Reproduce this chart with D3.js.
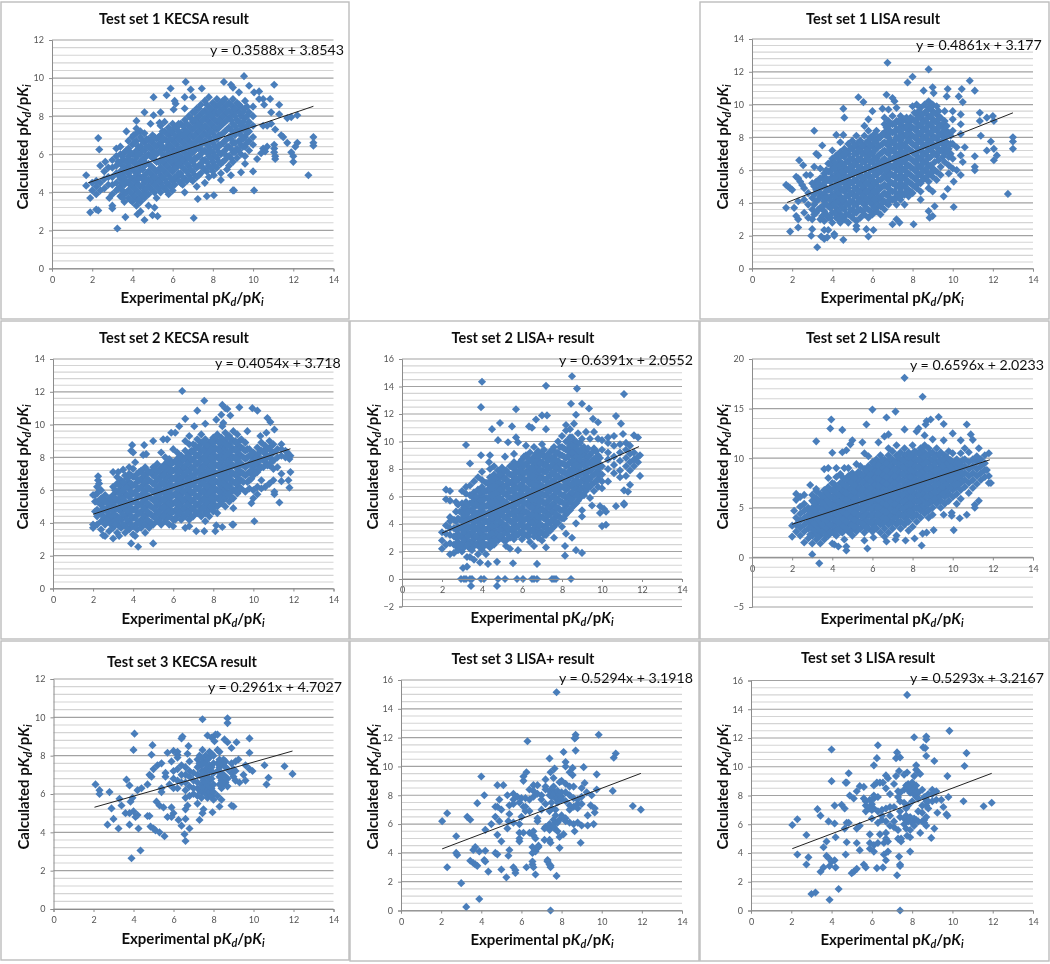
<!DOCTYPE html>
<html><head><meta charset="utf-8">
<script src="https://cdn.jsdelivr.net/npm/d3@7"></script>
<style>html,body{margin:0;padding:0;background:#fff}svg{display:block}text{font-family:Lato,"Noto Sans",sans-serif}</style>
</head><body><svg id="c" width="1050" height="964"></svg>
<script>
// Each row is [x, y, y, ...]: values. The dense cores cannot be resolved
// point by point, so their rows are hand estimates of where the blue fills the plot.
const xTicks=[0,2,4,6,8,10,12,14];
const titles=["Test set 1 KECSA result","Test set 1 LISA result","Test set 2 KECSA result","Test set 2 LISA+ result","Test set 2 LISA result","Test set 3 KECSA result","Test set 3 LISA+ result","Test set 3 LISA result"];
const equations=["y = 0.3588x + 3.8543","y = 0.4861x + 3.177","y = 0.4054x + 3.718","y = 0.6391x + 2.0552","y = 0.6596x + 2.0233","y = 0.2961x + 4.7027","y = 0.5294x + 3.1918","y = 0.5293x + 3.2167"];
const slopes=[0.3588,0.4861,0.4054,0.6391,0.6596,0.2961,0.5294,0.5293];
const intercepts=[3.8543,3.177,3.718,2.0552,2.0233,4.7027,3.1918,3.2167];

const k1=[[1.7,4.9,4.35],[1.9,3.7,2.95],[2.2,3.1],[2.3,3.05,6.85],[2.35,6.25],[2.65,5.6],[2.85,3.7],[3,3.3,3.15],[3.65,2.7],[3.25,2.1],[4.25,2.85],[4.4,3],[4.6,2.55],[5,2.8],[5.25,2.75],[5.1,3.2],[4.8,3.3],[7.05,2.65],[7.25,3.65],[7.7,3.8],[8.05,3.85],[9,4.1],[9.05,4.1],[10.05,4.1],[10,5.1],[9.6,5.5],[12.75,4.9],[13,6.45,6.6,6.9],[12.2,6.6,8.05],[12,5.6,5.9],[12.1,6.4],[11.9,6.1,7.95],[11.7,6.6,7.9],[11.5,6.9],[11.4,7],[11.3,8.6,8.1],[11.05,9.65,6.5,6.3,6.1],[11.1,5.9,5.75,7.3],[10.85,8.9],[10.5,8.9,6.3,7.5],[10.55,8.6],[10.3,9.3,8.9],[10.05,9.25],[9.55,10.1],[9.8,9.6],[8.55,9.8],[8.9,9.65,4.9],[9,9.5],[9.3,9.25],[6.65,9.8],[6.9,9.4],[7.45,9.45],[7,9],[5.9,9.45],[5.7,9.1],[5.05,9,8.05],[6.6,9,8.4],[6.1,8.8],[6.15,8.65],[6.05,8.35],[5.4,8.2],[4.6,8.2],[4.2,7.75,7.35],[4.9,7.6],[5.35,7.65],[3.7,7.2],[4.05,7],[4.4,7.2],[10.7,6.4,7.5],[10.6,6.15],[10.4,6.05],[10.2,5.75],[10.9,7.6,8.2],[9.4,5.05],[8.7,5.2],[8.4,4.65],[8.05,4.9],
[2.0,4.1,4.5],[2.2,3.9,4.3,4.6],[2.4,4.1,4.5,5.4],[2.6,4.2,4.7,5.1],[2.8,4.4,4.8,5.3],[3.0,3.9,4.4,4.8,5.3,5.7],[3.2,4.1,4.5,5.0,5.4,5.9,6.3],[3.4,3.8,4.3,4.7,5.1,5.6,6.0,6.4],[3.6,3.5,3.9,4.4,4.8,5.3,5.7,6.1],[3.8,3.7,4.1,4.5,5.0,5.4,5.9,6.3,6.7],[4.0,3.5,3.9,4.3,4.7,5.2,5.6,6.0,6.5,6.9],[4.2,3.3,3.7,4.1,4.5,4.9,5.4,5.8,6.2,6.7,7.1],[4.4,3.5,3.9,4.3,4.8,5.2,5.6,6.0,6.4,6.9],[4.6,3.7,4.1,4.5,4.9,5.4,5.8,6.2,6.6,7.1],[4.8,3.9,4.3,4.7,5.1,5.5,6.0,6.4,6.8],[5.0,4.1,4.5,4.9,5.3,5.8,6.2,6.6,7.0],[5.2,3.7,4.3,4.7,5.1,5.6,6.0,6.4,6.8],[5.4,4.0,4.5,4.9,5.3,5.7,6.2,6.6,7.0,7.5],[5.6,4.2,4.7,5.1,5.5,5.9,6.3,6.8,7.2,7.7],[5.8,3.9,4.4,4.9,5.3,5.7,6.1,6.5,7.0,7.4],[6.0,4.1,4.6,5.1,5.5,5.9,6.3,6.7,7.2,7.6],[6.2,4.8,5.3,5.7,6.1,6.5,6.9,7.4],[6.4,4.5,5.0,5.5,5.9,6.3,6.7,7.1,7.6],[6.6,4.0,4.7,5.2,5.7,6.1,6.5,6.9,7.3,7.8],[6.8,4.9,5.4,5.9,6.3,6.7,7.1,7.5,8.0],[7.0,4.6,5.1,5.6,6.1,6.5,6.9,7.3,7.7,8.2],[7.2,4.3,4.8,5.3,5.8,6.3,6.7,7.1,7.5,7.9,8.4],[7.4,5.0,5.5,6.0,6.5,6.9,7.3,7.7,8.1,8.6],[7.6,4.5,5.2,5.7,6.2,6.7,7.1,7.5,7.9,8.3,8.8],[7.8,4.8,5.4,5.9,6.4,6.9,7.3,7.7,8.1,8.5,9.0],[8.0,5.1,5.6,6.1,6.6,7.1,7.5,7.9,8.3,8.7],[8.2,5.3,5.8,6.3,6.8,7.3,7.7,8.1,8.5,8.9],[8.4,5.0,5.5,6.0,6.5,7.0,7.5,7.9,8.3,8.7],[8.6,5.7,6.2,6.7,7.2,7.7,8.1,8.5,8.9],[8.8,5.4,5.9,6.4,6.9,7.4,7.9,8.3,8.7],[9.0,5.6,6.1,6.6,7.1,7.6,8.1,8.5,8.9],[9.2,5.8,6.3,7.3,7.8,8.3,8.7],[9.4,6.0,6.5,7.0,7.5,8.0,8.5],[9.6,5.9,6.4,6.9,7.4,7.9,8.4,8.8],[9.8,6.2,6.7,7.2,7.7,8.2],[10.0,6.5,6.9,7.5,8.0,8.5],
[3.3,4.2,4.9,5.6],[3.7,4.0,4.6,5.1,5.6,6.2],[4.1,3.8,4.2,4.6,5.1,5.6,6.0,6.6],[4.5,3.8,4.3,4.7,5.2,5.7,6.2,6.7],[4.9,4.2,4.6,5.0,5.4,5.9,6.3,6.7],[5.3,4.2,4.6,5.1,5.6,6.1,6.5,6.9],[5.7,4.1,4.5,5.0,5.4,5.8,6.3,6.7,7.1],[6.1,4.4,4.8,5.3,5.7,6.1,6.6,7.0,7.4],[6.5,4.4,4.8,5.3,5.7,6.2,6.6,7.0,7.5],[6.9,4.7,5.2,5.7,6.1,6.6,7,7.4,7.9],[7.3,4.9,5.4,5.9,6.3,6.8,7.2,7.6,8.0,8.4],[7.7,5.1,5.6,6.1,6.5,7,7.4,7.8,8.2,8.6],[8.1,5.4,5.9,6.4,6.9,7.4,7.8,8.2,8.6],[8.5,5.6,6.1,6.6,7.1,7.6,8.0,8.4,8.8],[8.9,5.8,6.3,6.8,7.3,7.8,8.2,8.6],[9.3,6.2,6.7,7.2,7.7,8.2,8.6],[9.7,6.6,7.1,7.5,8.0,8.5],
[3.5,3.7,4.1,4.5,5,5.4,5.9],[3.9,3.6,4,4.4,4.8,5.2,5.7,6.1],[4.3,3.6,4,4.4,4.7,5.1,5.5,6,6.4],[4.7,3.9,4.2,4.6,5,5.5,5.9,6.4,6.8],[5.1,4,4.4,4.8,5.2,5.7,6.1,6.5,6.9],[5.5,4.3,4.8,5.2,5.6,6,6.4,6.8,7.2],[5.9,4.3,4.7,5.2,5.6,6,6.4,6.8,7.2],[6.3,4.6,5,5.5,5.9,6.3,6.8,7.2,7.6],[6.7,4.6,5.1,5.5,5.9,6.4,6.8,7.2,7.6],[7.1,4.9,5.4,5.8,6.2,6.6,7,7.4,7.8,8.2],[7.5,5.3,5.7,6.2,6.6,7,7.4,7.8,8.2],[7.9,5.3,5.8,6.2,6.7,7.2,7.6,8,8.4],[8.3,5.6,6.1,6.5,7,7.4,7.8,8.2,8.6],[8.7,5.9,6.4,6.8,7.3,7.8,8.2,8.6],[9.1,6.1,6.6,7,7.5,8,8.4],[9.5,6.4,6.8,7.3,7.7,8.2]];

const l1=[[1.7,3.7,5.1],[1.8,5],[1.9,4.9,2.25],[2,4.8],[2.1,3.7],[2.2,3.2,5.6],[2.3,3,4.1,5.5,2.5],[2.4,5.3],[2.5,5.1],[2.35,6.6],[2.55,6.3],[2.7,5.7],[2.9,5.7],[3.1,6.2,8.4],[3.2,7],[3.3,6.9],[3.5,7.5],[2.95,2],[3,2.4],[3.25,1.3],[3.45,1.95],[3.6,1.8,2.35],[3.75,1.9],[3.8,2.35],[4.1,2,2.1],[4.55,1.75,9.75,8.15],[4.6,9.2],[4.2,8.15],[5.3,10.45],[5.55,10.15],[6.7,10.6],[6.75,12.55],[6.5,9.75],[7,10.4],[7.1,10.2],[7.75,11.35],[8,11.7],[8.8,12.15],[8.55,10.85],[9,11.05],[9.05,10.7],[9.7,10.5],[9.75,10.95],[10.45,10.95],[10.85,11.45],[11.1,10.85,6.85,6.2,6],[10.3,10.5],[10.5,10.15,6.5],[11.35,9.5,9],[11.7,9.2,7.2],[12,9.3],[12.05,9,7.3,6.6],[11.9,7.75],[12.2,6.9],[13,8,7.75,7.3],[12.75,4.55],[11.4,8.1],[10.05,3.75,5.3],[9.55,4.4],[9.75,4.85],[9,3.2],[8.85,3.1],[8.8,3.5],[9.1,3.8],[8.05,2.7],[8.4,4.2],[7.35,2.8],[7.2,3],[7,2.7],[6.05,2.35],[5.8,1.95],[5.7,2.4],[5.2,2.4,2.9],[10.2,6,7.4],[10.4,5.7],[10.6,7.4],
[2.6,3.4,4.2,4.9],[2.8,3.1,3.9,4.6],[3.0,3.0,3.6,4.3,5.2],[3.2,3.4,4.1,4.8,5.3],[3.4,3.0,3.7,4.4,4.9,5.5,6.1],[3.6,2.9,3.5,4.1,4.6,5.2,5.8],[3.8,3.1,3.8,4.3,4.8,5.4,5.9,6.4],[4.0,2.8,3.4,4.0,4.5,5.0,5.6,6.1,6.7,7.2],[4.2,3.1,3.7,4.2,4.7,5.3,5.8,6.3,6.9],[4.4,2.8,3.3,3.9,4.4,4.9,5.5,6.0,6.5,7.1,7.7],[4.6,3.0,3.6,4.1,4.7,5.2,5.7,6.2,6.8,7.3],[4.8,2.8,3.3,3.9,4.4,4.9,5.4,6.0,6.5,7.0,7.6],[5.0,3.1,3.6,4.1,4.6,5.2,5.7,6.2,6.7,7.3,7.8],[5.2,2.6,3.4,3.9,4.4,4.9,5.4,5.9,6.5,7.0,7.5,8.1],[5.4,3.1,3.6,4.2,4.7,5.2,5.7,6.2,6.7,7.3,7.8],[5.6,3.3,3.9,4.4,4.9,5.4,6.0,6.5,7.0,7.5,8.1,8.7],[5.8,3.1,3.6,4.2,4.7,5.2,5.7,6.2,6.8,7.3,7.8,8.4,9.1],[6.0,3.3,3.9,4.4,4.9,5.4,6.0,6.5,7.0,7.5,8.0,9.6],[6.2,3.5,4.1,4.6,5.1,5.7,6.2,6.7,7.3,7.8,8.4],[6.4,3.3,3.8,4.3,4.9,5.4,5.9,6.4,7.0,7.5,8.0],[6.6,3.6,4.1,4.6,5.1,5.7,6.2,6.7,7.2,7.7,8.3,8.8,9.2],[6.8,3.9,4.4,4.9,5.4,5.9,6.4,7.0,7.5,8.0,8.5,9.0,9.7],[7.0,4.2,4.7,5.2,5.7,6.2,6.7,7.2,7.7,8.3,8.8,9.3],[7.2,3.9,4.4,5.0,5.5,6.0,6.5,7.0,7.5,8.0,8.5,9.0,9.8],[7.4,4.2,4.7,5.2,5.7,6.2,6.8,7.3,7.8,8.3,8.8,9.3],[7.6,3.9,4.5,5.0,5.5,6.0,6.5,7.0,7.5,8.1,8.6,9.1],[7.8,4.4,4.8,5.3,5.8,6.3,6.8,7.3,7.9,8.4,8.9],[8.0,4.6,5.1,5.6,6.1,6.6,7.1,7.6,8.1,8.6,9.1,9.9],[8.2,4.9,5.4,5.9,6.4,6.9,7.4,7.9,8.4,8.9,9.4,10],[8.4,4.7,5.2,5.7,6.2,6.7,7.2,7.7,8.2,8.7,9.2,9.8],[8.6,5.5,6.0,6.5,7.0,7.5,8.0,8.5,9.0,9.5,10],[8.8,4.9,5.3,5.8,6.3,6.8,7.3,7.8,8.3,8.8,9.3,9.8,10.2],[9.0,4.7,5.6,6.1,7.1,7.6,8.1,8.6,9.1,9.6,10],[9.2,5.4,5.9,6.9,7.4,7.9,8.4,8.9,9.4,9.9],[9.4,5.7,6.2,7.2,7.7,8.2,8.7,9.2],[9.6,6.5,7.0,7.5,8.0,8.5,9.0,9.6],[9.8,5.8,6.3,6.8,7.3,8.3],[10.0,6.1,6.7,7.6,8.4,9.1,9.6],[10.4,6.9,8.2,8.8,9.4],
[3.1,3.3,3.9,4.5,5.0],[3.5,3.2,3.8,4.4,5.0,5.5],[3.9,3.1,3.7,4.2,4.8,5.3,5.9,6.4],[4.3,3.0,3.5,4.1,4.6,5.1,5.7,6.2,6.7],[4.7,3.3,3.9,4.4,5.0,5.5,6.0,6.5,7.1],[5.1,3.4,3.9,4.4,4.9,5.4,5.9,6.4,7.0,7.5],[5.5,3.5,4,4.5,5,5.5,6,6.5,7,7.5],[5.9,3.5,4,4.5,5,5.5,6,6.5,7,7.5,8],[6.3,3.8,4.3,4.8,5.4,5.9,6.4,6.9,7.5,8.0],[6.7,4,4.5,5,5.5,6,6.5,7.1,7.6,8.1,8.6],[7.1,4.2,4.7,5.2,5.7,6.3,6.8,7.3,7.8,8.3,8.8],[7.5,4.5,5,5.5,6,6.5,7,7.5,8,8.5,9],[7.9,4.7,5.2,5.7,6.2,6.7,7.2,7.7,8.2,8.7,9.2],[8.3,5.2,5.7,6.2,6.7,7.2,7.7,8.2,8.7,9.2,9.6],[8.7,5.6,6.1,6.6,7.1,7.6,8.1,8.6,9.1,9.6],[9.1,6,6.5,7,7.5,8,8.5,9,9.5],[9.5,6.8,7.3,7.8,8.3,8.8],[9.9,7,7.6,8.1],
[3.3,3.6,4.2,4.7,5.2],[3.7,3.3,3.9,4.4,4.9,5.5,6],[4.1,3.4,3.9,4.4,5,5.5,6.1,6.5],[4.5,3.2,3.7,4.2,4.8,5.3,5.9,6.4,6.9],[4.9,3.6,4.1,4.6,5.2,5.7,6.2,6.7,7.3],[5.3,3.6,4.1,4.7,5.2,5.7,6.2,6.7,7.2,7.7],[5.7,3.7,4.2,4.7,5.2,5.7,6.2,6.7,7.2,7.7],[6.1,3.7,4.2,4.7,5.2,5.7,6.2,6.7,7.2,7.7,8.2],[6.5,4,4.5,5,5.5,6.1,6.6,7.1,7.6,8.2],[6.9,4.2,4.7,5.2,5.7,6.2,6.7,7.3,7.8,8.3,8.8],[7.3,4.5,5,5.5,6,6.5,7,7.5,8,8.5,9],[7.7,4.7,5.2,5.7,6.2,6.7,7.2,7.7,8.2,8.7,9.2],[8.1,5,5.5,6,6.5,7,7.5,8,8.5,9,9.5],[8.5,5.4,5.9,6.4,6.9,7.4,7.9,8.4,8.9,9.4],[8.9,5.8,6.3,6.8,7.3,7.8,8.3,8.8,9.3,9.8],[9.3,6.6,7.1,7.6,8.1,8.6,9.1,9.6],[9.7,7.2,7.7,8.2,8.7]];

const k2=[[2,3.9,3.7,5.7],[2.1,4.7,5.3,5.7],[2.25,6.6,6.85],[2.3,6.4],[6.45,12.05],[7.55,11.45],[7.2,10.85],[8.45,11.2],[8.6,11],[8.7,10.95],[8.4,10.6],[8.85,10.55],[9.3,11.05],[9.95,11],[10.2,10.85],[10.7,10.4],[10.85,10.15],[11.05,9.7],[10.65,9.5],[9.7,9.6],[10.35,9.3],[6.6,10.35],[6.3,9.9],[7.6,10.05],[7.05,9.9],[8.45,9.9],[8.15,10.3],[8.5,10.1],[5,9],[5.5,9.1],[5.7,9.1],[5.9,9.5],[6.1,9.5],[4.55,8.75],[3.95,8.75],[3.9,8.4],[4,8.3],[4.5,8.15],[4.65,8.2],[3,7.1],[3.25,7.1],[3.5,7.25],[3.8,7.4],[4.1,7.7],[5,2.75],[4.25,2.55],[3.9,2.75],[3,3.05],[2.6,3.2],[2.5,3.25],[3.3,3.2],[4.1,3.2],[4.6,3.4],[7.15,3.5],[7.55,3.5],[8.1,3.5],[8.45,3.75],[8.15,3.85],[8.95,3.9],[9,3.9],[10.05,4.1],[9,4.9],[9.9,5.2],[10,5.5],[10.2,5.75],[11.05,5.75],[11.05,5.9],[11.3,5.25],[11.8,6.15],[11.85,7.1],[11.4,7],[11.75,6.6],[11.4,6.55],[11,6.6],[11.85,8.1],[11.8,7.9],[11.7,8.3],[11.4,8.8],
[2.2,3.9,4.4,4.8,5.3,5.8,6.2],[2.4,3.6,4.1,4.6,5.1,5.5,6.0],[2.6,3.9,4.3,4.8,5.3,5.7],[2.8,3.5,4.1,4.5,5.0,5.5],[3.0,3.7,4.2,4.7,5.2,5.7,6.2],[3.2,3.4,4.0,4.4,4.9,5.4,5.9,6.4,6.8],[3.4,3.7,4.2,4.7,5.1,5.6,6.1,6.6],[3.6,3.4,3.9,4.4,4.9,5.3,5.8,6.3,6.9],[3.8,3.6,4.1,4.6,5.1,5.6,6.1,6.5,7.0],[4.0,3.3,3.8,4.3,4.8,5.3,5.8,6.3,6.8,7.3],[4.2,3.6,4.0,4.5,5.0,5.5,6.0,6.5,7.0],[4.4,3.7,4.2,4.7,5.2,5.7,6.2,6.7,7.2],[4.6,3.9,4.4,4.9,5.4,5.9,6.4,6.9,7.4],[4.8,3.7,4.1,4.6,5.1,5.6,6.1,6.6,7.1],[5.0,3.9,4.4,4.9,5.4,5.9,6.4,6.9,7.4],[5.2,4.1,4.6,5.1,5.6,6.1,6.6,7.1,7.6],[5.4,3.9,4.4,4.9,5.4,5.9,6.4,6.9,7.4,8.3],[5.6,4.1,4.6,5.1,5.6,6.1,6.6,7.1,7.6,8.0],[5.8,3.9,4.4,4.9,5.4,5.9,6.4,6.9,7.4,7.9],[6.0,3.8,4.2,4.7,5.2,5.7,6.2,6.7,7.2,7.7,8.5],[6.2,4.4,4.9,5.4,5.9,6.4,6.9,7.4,7.9,8.3],[6.4,4.2,4.7,5.2,5.7,6.2,6.7,7.2,7.7,8.1],[6.6,3.7,4.4,4.9,5.4,5.9,6.4,6.9,7.4,7.9,8.4,9.0],[6.8,3.8,4.2,4.7,5.2,5.7,6.2,6.7,7.2,7.7,8.2,8.8,9.3],[7.0,4.4,4.9,5.4,5.9,6.4,6.9,7.4,7.9,8.4,8.8],[7.2,4.6,5.1,5.6,6.1,6.6,7.1,7.6,8.1,8.6,9.1],[7.4,4.4,4.9,5.4,5.9,6.4,6.9,7.4,7.9,8.4,8.9,9.4],[7.6,4.1,4.6,5.1,5.6,6.1,6.6,7.1,7.6,8.1,8.6,9.1],[7.8,4.4,4.9,5.4,5.9,6.4,6.9,7.4,7.9,8.4,8.9],[8.0,4.7,5.2,5.7,6.2,6.7,7.2,7.7,8.2,8.7,9.2],[8.2,4.6,5.0,5.5,6.0,6.5,7.0,7.5,8.0,8.5,9.0,9.4],[8.4,5.2,5.7,6.2,6.7,7.2,7.7,8.2,8.7,9.2],[8.6,5.0,5.5,6.0,6.5,7.0,7.5,8.0,8.5,9.0,9.5],[8.8,5.3,5.8,6.3,6.8,7.3,7.8,8.3,8.8,9.3],[9.0,5.5,6.0,6.5,7.0,7.5,8.0,8.5,9.0,9.6],[9.2,5.8,6.3,6.8,7.3,7.8,8.3,8.8,9.4],[9.4,6.1,6.6,7.1,7.6,8.1,8.6,9.1],[9.6,5.9,6.9,7.4,7.9,8.4,8.9],[9.8,6.1,6.6,7.1,7.6,8.1,8.5],[10.0,6.0,6.9,7.4,7.9,8.3],[10.2,6.2,7.1,7.6,8.1,8.6],[10.4,6.1,6.6,7.4,7.9,8.4,8.9],[10.6,6.2,7.7,8.2,8.7],[10.8,6.4,7.5,8.0,8.5,9.0],[11.0,7.3,7.8,8.3,8.8],[11.2,7.4,8.0,8.5],[11.4,8.1,8.5],[11.6,8.0,8.4],
[2.5,4.4,4.9,5.4],[2.9,3.9,4.4,4.9,5.4],[3.3,3.8,4.3,4.8,5.3,5.8,6.3],[3.7,3.7,4.2,4.7,5.2,5.7,6.2,6.7],[4.1,3.8,4.3,4.8,5.3,5.8,6.3,6.8],[4.5,4,4.5,5,5.5,6,6.5,7],[4.9,4,4.5,5,5.5,6,6.5,7.1],[5.3,4.2,4.7,5.2,5.7,6.2,6.7,7.2],[5.7,4.3,4.8,5.3,5.8,6.3,6.8,7.3,7.7],[6.1,4.2,4.7,5.2,5.7,6.2,6.7,7.2,7.7],[6.5,4.4,4.9,5.4,5.9,6.4,6.9,7.4,7.9],[6.9,4.4,4.9,5.4,5.9,6.4,6.9,7.4,7.9,8.4],[7.3,4.7,5.2,5.7,6.2,6.7,7.2,7.7,8.2,8.7],[7.7,4.7,5.2,5.7,6.2,6.7,7.2,7.7,8.2,8.7],[8.1,5,5.5,6,6.5,7,7.5,8,8.5,9],[8.5,5.4,5.9,6.4,6.9,7.4,7.9,8.4,8.9],[8.9,5.6,6.1,6.6,7.1,7.6,8.1,8.6,9.1],[9.3,6,6.5,7,7.5,8,8.5,9],[9.7,6.5,7,7.5,8,8.5],[10.1,7.1,7.6,8.1],[10.5,7.4,7.9,8.4],[10.9,7.7,8.2,8.7],
[2.7,4.2,4.7,5.2],[3.1,3.9,4.5,5,5.5,6],[3.5,3.9,4.5,5,5.5,6,6.5],[3.9,3.9,4.4,4.9,5.4,5.9,6.4,6.9],[4.3,4,4.6,5.1,5.6,6.1,6.6,7.1],[4.7,4.2,4.7,5.2,5.7,6.2,6.7,7.2],[5.1,4.3,4.8,5.3,5.8,6.3,6.8,7.3],[5.5,4.4,4.9,5.4,5.9,6.4,6.9,7.4],[5.9,4.6,5.1,5.6,6.1,6.6,7.1,7.6],[6.3,4.6,5.1,5.6,6.1,6.6,7.1,7.6,8],[6.7,4.6,5.1,5.6,6.1,6.6,7.1,7.6,8.1],[7.1,4.7,5.2,5.7,6.2,6.7,7.2,7.7,8.2,8.7],[7.5,4.9,5.4,5.9,6.4,6.9,7.4,7.9,8.4,8.9],[7.9,5,5.5,6,6.5,7,7.5,8,8.5,9],[8.3,5.4,5.9,6.4,6.9,7.4,7.9,8.4,8.9],[8.7,5.7,6.2,6.7,7.2,7.7,8.2,8.7,9.2],[9.1,6,6.5,7,7.5,8,8.5,9],[9.5,6.5,7,7.5,8,8.5],[9.9,6.7,7.2,7.7,8.2],[10.3,7.3,7.8,8.3],[10.7,7.5,8,8.5]];

const lp2=[[2,2.2,2.8,3.4],[2.2,2.5,3.3,3.9,5.8,6.5],[2.4,2.6,4.5,5.7,6.4],[2.7,5.6,4.9],[2.95,0],[3.1,0],[3.2,0,9.75],[3.4,0,8.4],[3.5,0],[3.95,0,12.5,9],[4.1,0],[4.8,0,10.1],[5.15,0,8.9],[5.75,0],[6.05,0],[6.5,0],[6.6,0],[6.75,0,1.1],[7.5,0],[7.6,0],[7.7,0],[8.45,0,12.75],[3.45,-0.5],[4.75,-0.5,1.25],[3.05,0.8],[3.25,0.9,1.6],[3.9,1.2],[4.3,1.1],[5.55,1.15],[8.15,1.7,2.4],[8.7,2.1,4.05,11.95],[9,1.9,4.55,12.75],[8.5,3],[8.2,3.3],[10,3.85],[10.2,3.95,4.9],[9.9,4.8,5.3],[10.7,5.3],[11.1,5.4,5.5,6.45],[10.1,5.1],[9.5,5.35],[4,14.35],[5.7,12.35],[7.2,14.05],[8.5,14.75],[8.75,13.85],[9.35,12.4],[11.1,13.45],[10.7,11.85],[7,11.9],[7.25,11.9],[6.7,11.6],[6.5,11],[6.35,11.1],[7.2,10.9],[5.5,11.1],[10.95,11.3],[9.55,11.65],[9.8,11.4],[4.5,10.9],[4.9,11.35],[5.3,9.95],[5.7,10.3],[5.8,9.95],[4.4,9],[4.35,8.5],[11.6,10.45],[11.8,10.3],[11.9,9,7.5],[11.4,6.85],[11.3,6.35],[11.05,10.55],
[2.4,1.8,3.2,3.7,4.2],[2.6,1.9,2.5,3.1,3.7,4.3],[2.8,2.1,2.7,3.3,3.8,4.4,5.4],[3.0,2.0,2.6,3.2,3.7,4.3,4.9,5.5,6.4],[3.2,2.8,3.4,3.9,4.5,5.1,5.6,6.2,6.7],[3.4,1.6,2.2,2.7,3.3,3.8,4.4,5.0,5.5,6.1,6.8],[3.6,1.4,2.4,2.9,3.5,4.1,4.6,5.2,5.7,6.3,7.1],[3.8,1.8,2.6,3.2,3.7,4.3,4.8,5.4,5.9,6.5,7.4],[4.0,2.1,2.7,3.3,3.8,4.4,5.0,5.5,6.1,6.7,7.2,7.8],[4.2,1.8,2.5,3.1,3.6,4.2,4.7,5.3,5.9,6.4,7.0],[4.4,2.3,2.9,3.5,4.0,4.6,5.2,5.7,6.3,6.8,7.4,8.0],[4.6,2.5,3.1,3.6,4.2,4.8,5.3,5.9,6.5,7.0,7.6,8.2],[4.8,2.8,3.3,3.9,4.5,5.0,5.6,6.2,6.7,7.3,7.9],[5.0,3.0,3.6,4.1,4.7,5.3,5.8,6.4,6.9,7.5,8.1],[5.2,2.4,2.8,3.4,3.9,4.5,5.1,5.6,6.2,6.8,7.3,7.9],[5.4,2.2,3.0,3.6,4.2,4.7,5.3,5.9,6.4,7.0,7.6,8.2],[5.6,2.9,3.4,4.0,4.6,5.1,5.7,6.3,6.8,7.4,8.0,8.5,9.1],[5.8,2.1,3.2,3.8,4.4,4.9,5.5,6.0,6.6,7.2,7.8,8.3],[6.0,2.9,3.5,4.1,4.7,5.2,5.8,6.4,6.9,7.5,8.1,8.7],[6.2,3.2,3.8,4.4,4.9,5.5,6.1,6.6,7.2,7.8,8.4,9.0,9.7],[6.4,2.7,3.4,4.0,4.6,5.2,5.7,6.3,6.9,7.4,8.0,8.6,9.2],[6.6,2.4,3.1,3.7,4.3,4.9,5.5,6.0,6.6,7.2,7.8,8.3,8.9,9.6],[6.8,3.0,3.6,4.2,4.7,5.3,5.9,6.4,7.0,7.6,8.2,8.7,9.3],[7.0,2.8,3.4,3.9,4.5,5.1,5.7,6.2,6.8,7.4,7.9,8.5,9.1,9.8],[7.2,2.3,3.2,3.7,4.3,4.9,5.5,6.1,6.6,7.2,7.8,8.3,8.9],[7.4,3.5,4.1,4.7,5.2,5.8,6.4,6.9,7.5,8.1,8.7,9.2],[7.6,3.0,3.8,4.4,4.9,5.5,6.1,6.6,7.2,7.8,8.4,8.9,9.6],[7.8,4.1,4.6,5.2,5.8,6.4,6.9,7.5,8.1,8.6,9.2,10],[8.0,3.8,4.4,5.0,5.6,6.1,6.7,7.3,7.8,8.4,9.0,9.6,10.4],[8.2,4.7,5.3,5.9,6.5,7.0,7.6,8.2,8.8,9.4,10.0,10.8,11.2],[8.4,5.0,5.6,6.2,6.8,7.4,7.9,8.5,9.1,9.7,10.3,10.9],[8.6,5.4,6.0,6.6,7.1,7.7,8.3,8.9,9.4,10.0,11.3],[8.8,5.7,6.3,6.9,7.5,8.0,8.6,9.2,9.8,10.6],[9.0,5.0,6.1,6.6,7.2,7.8,8.4,9.0,9.5,10.2],[9.2,6.4,7.0,7.5,8.1,8.7,9.3,10.7],[9.4,5.9,6.7,7.3,7.9,8.4,9.0,10.2],[9.6,6.4,7.0,7.6,8.2,8.7,9.5,10.7],[9.8,6.7,7.3,7.9,8.5,9.0,10.2],[10.0,6.6,7.1,7.6,8.2,9.4,10.1],[10.3,7.1,8.0,8.7,9.2,9.9,10.3],[10.6,7.7,8.3,8.9,9.7,10.4],[10.9,7.4,7.9,8.6,9.2,9.8],[11.2,7.5,8.2,8.8,9.4,9.9],[11.4,7.9,8.5,9.1,9.7],[11.6,8.2,8.7,9.2],[11.8,8.5,8.9],
[2.7,2.4,3,3.6,4.2],[3.1,2.3,2.9,3.5,4,4.6,5.2],[3.5,2.1,2.6,3.2,3.8,4.3,4.9,5.5,6],[3.9,2.3,2.9,3.5,4,4.6,5.2,5.7,6.3],[4.3,2.5,3.1,3.7,4.2,4.8,5.4,5.9,6.5,7],[4.7,2.8,3.3,3.9,4.5,5,5.6,6.2,6.7,7.3],[5.1,2.8,3.3,3.9,4.5,5,5.6,6.2,6.7,7.3,7.8],[5.5,3.1,3.7,4.2,4.8,5.4,5.9,6.5,7.1,7.6,8.2],[5.9,3.4,4,4.5,5.1,5.7,6.2,6.8,7.4,7.9,8.5],[6.3,3.1,3.7,4.3,4.8,5.4,6,6.5,7.1,7.7,8.2,8.8],[6.7,3.4,4,4.6,5.1,5.7,6.3,6.8,7.4,8,8.5,9.1],[7.1,3.2,3.8,4.4,4.9,5.5,6.1,6.6,7.2,7.8,8.3,8.9,9.4],[7.5,3.7,4.3,4.9,5.4,6,6.6,7.1,7.7,8.3,8.8,9.4],[7.9,4.5,5,5.6,6.2,6.7,7.3,7.9,8.4,9,9.6],[8.3,4.9,5.5,6,6.6,7.2,7.7,8.3,8.9,9.4,10],[8.7,5.5,6.1,6.6,7.2,7.8,8.3,8.9,9.5,10],[9.1,6.1,6.7,7.3,7.8,8.4,9,9.6],[9.5,6.9,7.5,8,8.6,9.2],[9.9,7.6,8.2,8.8],
[2.9,2.4,3.1,3.7,4.3,4.9],[3.3,2.5,3.1,3.7,4.2,4.8,5.4],[3.7,2.5,3.1,3.7,4.3,4.8,5.4,6],[4.1,2.4,3,3.6,4.1,4.7,5.3,5.8,6.4],[4.5,2.7,3.3,3.8,4.4,5,5.5,6.1,6.7,7.2],[4.9,3.1,3.6,4.2,4.8,5.3,5.9,6.5,7,7.6],[5.3,3.2,3.7,4.3,4.9,5.4,6,6.6,7.1,7.7],[5.7,3.2,3.7,4.3,4.9,5.4,6,6.6,7.1,7.7,8.3],[6.1,3.2,3.8,4.3,4.9,5.5,6,6.6,7.2,7.7,8.3,8.9],[6.5,3.5,4.1,4.6,5.2,5.8,6.3,6.9,7.5,8,8.6],[6.9,3.3,3.9,4.5,5,5.6,6.2,6.7,7.3,7.9,8.4,9],[7.3,3.5,4,4.6,5.2,5.7,6.3,6.9,7.4,8,8.6,9.1],[7.7,4.1,4.7,5.2,5.8,6.4,6.9,7.5,8.1,8.6,9.2],[8.1,4.4,5,5.5,6.1,6.7,7.2,7.8,8.4,8.9,9.5],[8.5,5.2,5.8,6.3,6.9,7.5,8,8.6,9.2,9.7,10.3],[8.9,5.9,6.5,7,7.6,8.2,8.7,9.3,9.9],[9.3,6.7,7.2,7.8,8.4,8.9,9.5],[9.7,7.1,7.7,8.3,8.8,9.3]];

const l2=[[7.6,18.1],[8.5,16.2],[6,14.9],[7.15,14.7],[6.7,14.1],[9.3,14.15],[8.9,13.9],[8.7,13.75],[8.65,13.4],[3.95,13.9],[3.9,13],[4.5,12.85],[5.7,13.4],[7.6,12.9],[9.55,13.45],[10.7,13.4],[10,12.5],[10.9,12.4],[11,11.85],[11.3,11],[8.3,13],[8.2,12.7],[8.6,12.3],[3.2,11.7],[4,10.55],[4.5,10.6],[4.7,10.8],[4.9,11.4],[5,11.8],[5.5,11.6],[6.6,12.2],[6.8,12.4],[6.3,11.6],[9,11.9],[9.55,11.8],[10.4,11.8],[2.9,7.3],[3.2,6.9],[2.6,6.3],[3,6.3],[3.6,8.9],[3.8,9],[4.2,9],[4.6,9],[2.1,4.7],[3,0.3],[3.35,-0.6],[4.7,0.7,1.1],[4.3,1.1],[4.1,1.3],[5.75,0.9],[5.6,1.7],[6.05,2],[6.7,1.6],[7.15,1.8],[7.65,1.7],[8.45,1.2],[8.1,1.9],[8.5,2.4],[8.7,2.5],[9.05,2.75],[10.05,2.75],[10.35,3.95],[10.7,4.3],[9.55,4.3],[9.95,4.2,4.5],[11.1,5,5.3],[11.3,5.7],[11.9,7.5],[11.8,7.5,8.2,10.5],[11.7,8.8],[11.6,10.3],
[2,2.1,3.2],[2.2,2.6,3.3,4,5.8,6.4],[2.4,2.2,3.0,3.7,4.4,5.1,6.1],[2.6,1.5,2.6,3.3,4.0,4.7,5.4],[2.8,1.9,2.9,3.6,4.3,5.0],[3.0,1.4,2.2,2.9,3.6,4.3,5.0,5.7],[3.2,1.8,2.5,3.2,3.9,4.6,5.3,6.0,6.7],[3.4,1.4,2.2,2.9,3.6,4.3,5.0,5.7,6.4],[3.6,1.8,2.6,3.3,4.0,4.7,5.4,6.1,6.8],[3.8,2.2,2.9,3.6,4.3,5.0,5.7,6.4,7.1,8.0],[4.0,1.4,2.6,3.3,4.0,4.7,5.4,6.1,6.8,7.5],[4.2,2.2,2.9,3.6,4.3,5.0,5.7,6.4,7.1,8.1],[4.4,2.6,3.3,4.0,4.7,5.4,6.1,6.8,7.5,8.4],[4.6,1.8,2.9,3.6,4.3,5.0,5.7,6.4,7.1,7.8],[4.8,2.6,3.3,4.0,4.7,5.4,6.1,6.8,7.5,8.2,9.0],[5.0,2.2,2.9,3.6,4.3,5.0,5.7,6.4,7.1,7.8,8.5],[5.2,2.6,3.3,4.0,4.7,5.4,6.1,6.8,7.5,8.2,9.4],[5.4,2.9,3.6,4.3,5.0,5.7,6.4,7.1,7.8,8.5,9.2],[5.6,2.5,3.3,4.0,4.7,5.4,6.1,6.8,7.5,8.2,8.9,10.5],[5.8,2.9,3.6,4.3,5.0,5.7,6.4,7.1,7.8,8.5,9.2,10.2],[6.0,2.6,3.3,4.0,4.7,5.4,6.1,6.8,7.5,8.2,8.9,9.6],[6.2,2.9,3.6,4.3,5.0,5.7,6.4,7.1,7.8,8.5,9.2,9.9],[6.4,2.5,3.3,4.0,4.7,5.4,6.1,6.8,7.5,8.2,8.9,9.6,10.3],[6.6,2.1,2.9,3.6,4.3,5.0,5.7,6.4,7.1,7.8,8.5,9.2,9.9],[6.8,2.5,3.3,4.0,4.7,5.4,6.1,6.8,7.5,8.2,8.9,9.6,10.3,11],[7.0,2.9,3.6,4.3,5.0,5.7,6.4,7.1,7.8,8.5,9.2,9.9,10.7],[7.2,2.2,3.3,4.0,4.7,5.4,6.1,6.8,7.5,8.2,8.9,9.6,10.3,11.3],[7.4,2.9,3.6,4.3,5.0,5.7,6.4,7.1,7.8,8.5,9.2,9.9,10.6],[7.6,3.3,4.0,4.7,5.4,6.1,6.8,7.5,8.2,8.9,9.6,10.3,11],[7.8,2.7,3.6,4.3,5.0,5.7,6.4,7.1,7.8,8.5,9.2,9.9,10.6],[8.0,3.1,4.0,4.7,5.4,6.1,6.8,7.5,8.2,8.9,9.6,10.3,11.3],[8.2,3.6,4.3,5.0,5.7,6.4,7.1,7.8,8.5,9.2,9.9,10.6],[8.4,4.0,4.7,5.4,6.1,6.8,7.5,8.2,8.9,9.6,10.3,11],[8.6,4.4,5.0,5.7,6.4,7.1,7.8,8.5,9.2,9.9,10.6,11.3],[8.8,4.0,4.7,5.4,6.1,6.8,7.5,8.2,8.9,9.6,10.3,11],[9.0,4.3,5.0,5.7,6.4,7.1,7.8,8.5,9.2,9.9,10.6],[9.2,5.4,6.1,6.8,7.5,8.2,8.9,9.6,10.3,11],[9.4,5.0,5.7,6.4,7.1,7.8,8.5,9.2,9.9,10.6],[9.6,5.4,6.1,6.8,7.5,8.2,8.9,9.6,10.3],[9.8,5.7,6.4,7.1,7.8,8.5,9.2,9.9,10.7],[10.0,6.1,6.8,7.5,8.2,8.9,9.6,10.5],[10.2,5.4,6.4,7.1,7.8,8.5,9.2,9.9],[10.4,5.9,6.8,7.5,8.2,8.9,9.6,10.5],[10.6,7.1,7.8,8.5,9.2,9.9,11],[10.8,6.5,7.5,8.2,8.9,9.6,10.6],[11.0,7,7.8,8.5,9.2,9.9],[11.2,7.4,8.2,8.9,9.6,10.2],[11.4,7.8,8.5,9.2,9.9],[11.6,8.1,8.8,9.5],
[2.9,2.3,3.1,3.9,4.6],[3.3,2.1,2.8,3.5,4.2,5,5.7],[3.7,2.2,3,3.7,4.4,5.1,5.8,6.5],[4.1,2.4,3.1,3.8,4.5,5.2,6,6.7,7.4],[4.5,2.5,3.2,3.9,4.6,5.3,6,6.7,7.4,8.1],[4.9,2.6,3.3,4,4.7,5.4,6.2,6.9,7.6,8.3],[5.3,2.9,3.6,4.3,5,5.7,6.5,7.2,7.9,8.6],[5.7,3,3.7,4.4,5.1,5.8,6.6,7.3,8,8.7],[6.1,3,3.7,4.4,5.1,5.8,6.6,7.3,8,8.7,9.4],[6.5,3.4,4.1,4.8,5.5,6.2,7,7.7,8.4,9.1,9.8],[6.9,3.5,4.2,4.9,5.6,6.3,7.1,7.8,8.5,9.2,9.9],[7.3,3.6,4.4,5.1,5.8,6.5,7.2,7.9,8.6,9.4,10.1],[7.7,3.8,4.5,5.2,5.9,6.6,7.3,8.1,8.8,9.5,10.2],[8.1,4.3,5,5.7,6.4,7.2,7.9,8.6,9.3,10,10.7],[8.5,5,5.7,6.4,7.1,7.8,8.6,9.3,10,10.7],[8.9,5.6,6.3,7,7.7,8.4,9.1,9.8,10.5],[9.3,6,6.7,7.4,8.1,8.8,9.6,10.3],[9.7,6.6,7.3,8,8.7,9.4,10.1],[10.1,7.2,7.9,8.6,9.3],[10.5,7.7,8.4,9.1,9.8],
[3.1,2.7,3.4,4.1,4.8,5.5],[3.5,2.6,3.3,4,4.8,5.5,6.2],[3.9,2.5,3.3,4,4.7,5.4,6.1,6.8],[4.3,2.8,3.5,4.2,4.9,5.6,6.3,7],[4.7,2.9,3.6,4.4,5.1,5.8,6.5,7.2,7.9],[5.1,3.1,3.8,4.5,5.2,5.9,6.6,7.3,8],[5.5,3.4,4.1,4.8,5.5,6.2,6.9,7.6,8.3],[5.9,3.5,4.2,4.9,5.6,6.3,7,7.7,8.4,9],[6.3,3.7,4.4,5.1,5.8,6.5,7.2,7.9,8.6,9.3],[6.7,3.9,4.6,5.3,6,6.7,7.4,8.1,8.8,9.5],[7.1,4,4.7,5.4,6.1,6.8,7.5,8.2,8.9,9.6],[7.5,4.2,4.9,5.6,6.3,7,7.7,8.4,9.1,9.8],[7.9,4.6,5.3,6,6.7,7.4,8.1,8.8,9.5,10.2],[8.3,4.9,5.6,6.3,7,7.7,8.4,9.1,9.8,10.5],[8.7,5.4,6.1,6.8,7.5,8.2,8.9,9.6,10.3],[9.1,5.9,6.6,7.3,8,8.7,9.4,10.1],[9.5,6.4,7.1,7.8,8.5,9.2,9.9],[9.9,7,7.7,8.4,9.1,9.8],[10.3,7.4,8.1,8.8,9.5]];

const k3=[[2.1,6.5],[2.3,6.2,6],[2.8,6.1],[2.9,5.25],[3,4.7],[2.7,4.4],[3.25,4.2],[3.3,5.75],[3.4,5.4],[3.6,5],[3.65,6.75],[3.8,5,4.4,6.45],[3.85,5.6],[4,5.1,8.3],[3.95,5.8],[4.05,9.15],[4.1,4.8],[4.2,4.9,6.2],[4.25,4.2],[4.35,3.05],[3.9,2.65],[4.4,6.3],[4.7,6.5,4.85],[4.8,4.85,7],[4.85,4.3],[4.9,6.9,8.05],[4.95,8.55],[5,4.2,7.3],[5.1,4.1],[5.15,5.6],[5.3,4,5.4],[5.4,7.6,6.3],[5.2,7.5],[5.5,5.3],[5.55,3.8],[5.7,8.15,4.8],[5.9,4.8,5.3,7.7],[6,5,8.25],[6.2,8.05,8.2],[6.25,4.65],[6.4,8.9,4.35],[6.45,9],[6.55,3.9],[6.6,3.55,4.7,5.2],[6.8,4.2],[6.7,5.4,8.1],[6.75,8.5],[7.3,4.65],[7.45,5,8.3,9.9],[7.5,5.2],[7.2,5.5],[7.7,9.05],[7.9,8.95],[8.1,9.1],[8.2,9.1],[8.05,8.75],[7.95,5.05],[8.3,5.35],[8.4,5.7],[8.9,5.4],[9,5.35],[8.55,8.85],[8.7,8.7,9.95,9.7],[8.9,8.4],[9.15,8.7],[9.8,8.9,8.15,7.3],[9.25,7.8],[9.6,7.5,6.7],[9.95,7.2],[9.5,7],[9.3,6.6],[10.55,7.5],[10.65,6.5],[10.75,6.85],[11.55,7.45],[11.95,7.05],
[5.4,6.1],[5.6,6.9,7.1],[5.8,6.5],[6.0,6.3,6.8,7.2],[6.2,6.3,6.7,7.3,7.9],[6.4,6.6,7.0,7.5],[6.6,5.8,6.2,6.6,7.0,7.4],[6.8,5.9,6.4,6.9,7.2,7.7],[7.0,6,6.3,6.7,7.1],[7.2,5.9,6.3,6.6,7,7.4,7.8],[7.3,6.2,7.6,8],[7.4,5.8,6.1,6.5,6.9,7.2,7.5,7.9],[7.5,6.3,6.7,7.1,7.7],[7.6,6,6.3,6.6,7,7.3,7.6,8],[7.7,5.8,6.2,6.5,6.9,7.3,7.8],[7.8,6.1,6.4,6.7,7.2,7.5,7.9,8.2],[7.9,5.9,6.3,6.8,7.4,8.1],[8.0,5.7,6.1,6.5,7.1,7.6,8],[8.2,5.9,7.2,7.6,8.3],[8.3,6.5,6.9,7.4,7.8,8.2],[8.4,6.3,6.7,7.1,7.6],[8.5,6.5,7,7.5,7.8],[8.6,6.6,6.9,7.4,7.7],[8.7,6.4,6.8,7.3],[8.9,7.1,7.6],[9,6.9,7.3],[9.1,6.7,7.2,7.7]];

const lp3=[[2.05,6.2],[2.3,6.75,3],[2.75,5.15,4],[2.8,3.85],[3,1.9],[3.25,0.25],[3.3,6.5],[3.45,6.3,3.45],[3.6,3.3,4.2],[3.7,3.2,4.4],[3.8,3.1,7.45],[3.9,4.1,0.8],[4,9.3],[4.15,3.5,8],[4.2,5.6,4.15,3.4],[4.35,2.7],[4.5,6],[4.7,6.5,7.2,4],[4.8,7.2,3.9,8.7,5.25],[4.9,7.7,6.2],[5,2.85,4.8,7],[5.1,8.7],[5.25,2.3],[5.3,8,5.7],[5.4,6.7,4.2,7.3],[5.35,6.2,3.8],[5.6,3,7.7,8.1],[5.7,2.6,2.8],[5.9,4.8,5,5.4,6,7.5],[6.1,5.4,7.2,9,9.3],[6.25,9.6,3],[6.3,11.75],[6.4,5.4],[6.55,4.4,3.2,3.4,4],[6.6,5.2,3],[6.7,2.5,4.1,5],[6.85,4.4,4.5],[7.15,4.9,5.7],[7.3,3.5,3.4],[7.4,10.55,3.2,4.9],[7.45,3.1,3,4.7,9.6,0],[7.65,9.85,5.7],[7.75,15.15,2.4],[7.9,4.35,5.1],[8.1,11,5.3],[8.2,10.3,10],[8.4,9.6],[8.55,9.9,9.4],[8.7,12,12.2,11.1],[8.65,5.5,11.95],[8.95,4.7],[9.1,9.95],[9.15,8.85],[9.3,5.9,6.6],[9.45,7.3],[9.6,6],[9.65,6.8,7.1],[9.75,9.45,8.4],[9.85,12.2],[10.55,8.3],[10.6,10.6],[10.7,10.9],[11.55,7.25],[11.95,7],[9.5,8],[9.25,8.2],
[5.6,7.4,6.1],[5.8,7.9],[6.0,6.5,7.8],[6.2,6.9,7.8,7.2],[6.4,7.7,8.4,6.9],[6.6,7.9,8.7,8.3,5.5],[6.8,8.7,8.1,6.2,6.4],[7.0,7,7.7,8],[7.2,8.4,8.6,7.4,5.8,9.1],[7.4,8,8.3,6.9,5.6,6],[7.5,7.5,7.9,8.4,7.1],[7.6,8.2,8.6,9.2,6.3,5.8],[7.7,7.8,8.2,7,6.6,6.1],[7.8,8.3,7.5,7.9,6.1,5.5],[7.9,8.1,7.7,6.3,8.9],[8,7.9,8.2,7.7,6.6,9],[8.2,8.2,7.6,6.2,6.4,8.8],[8.4,8,7,6.1,8.6,7.3],[8.6,7.2,6,8.6,7.8],[8.8,7.4,6.1,7.1,7.7],[9,7.4,7.9,5.9,8.5]];

const l3=[[2.05,5.95],[2.3,6.35,3.9],[2.75,3.2,5.25],[2.85,3.7],[3,1.15],[3.2,1.25],[3.3,7.05],[3.45,6.6,2.7],[3.6,3,4.4],[3.75,4.8,3.8],[3.85,3.65,6.2],[3.9,3.1,0.75],[4,9,11.2,3.4],[4.15,7.3,6.05,3.5],[4.2,5.1,3],[4.35,1.5],[4.5,7.35],[4.65,7.1,5.7],[4.7,8.9,3.9],[4.75,8.9,4.75,6.1],[4.85,9.55,6.1],[4.9,8],[5,2.6],[5.1,7.8,2.7],[5.25,8.3,4.7,2.9,5.7],[5.4,5.9,4.2,8.65],[5.6,8.6,3.2,7.8],[5.7,3,6.9],[5.9,4.7,4.3,5.3],[6,6.4,7.4,7],[6.1,10.1,8.7,7.1,4.1,4.55],[6.25,10.6,8.9,2.95],[6.3,11.5,4.7],[6.4,5.3,8.9],[6.55,8.9,3],[6.6,4.7,3.9],[6.7,3.5,9.4],[6.8,4.1,4.8,9.2],[7.2,9.35,10.6],[7.25,11,2.45],[7.35,3.75,9.7],[7.4,10.65,3.1,3.2,0],[7.45,4.8,5],[7.6,9.45],[7.75,15,9.6,5.2],[7.9,4.1,5.1],[8.1,12.05,9.35],[8.2,10.1,9.8],[8.4,9.5,5.4],[8.55,11.35],[8.65,11.3],[8.7,12.1,11.9,10.75,5.9],[8.95,5.05],[9.1,10.4,5.7],[9.25,6.8],[9.45,7.7],[9.55,7.2],[9.7,6.7],[9.75,9.35,6.6],[9.8,7.9],[9.85,12.5],[10.55,7.6],[10.6,10.05],[10.7,10.95],[11.55,7.25],[11.95,7.5],
[5.7,7.3,7.6],[5.9,7.7,7.1],[6.1,7.8,8],[6.3,7.9,6.9,6.1],[6.5,7,6.6,6.3],[6.7,8.5,7.1,6.2,5.4,5],[6.9,7.2,6.6,5.9,8.1],[7.1,7.2,6.2,8.8,5.8],[7.3,7.9,8.3,5,5.6],[7.4,8.2,7.6,6.9,6.5],[7.6,7.5,6.4,6,8.4],[7.7,8.7,5.7,6.6,7.1],[7.8,8.4,8.8,6.2,7.3],[7.9,8.2,8.6,6.5,5.6],[8,8.2,7.6,6.1,8.9],[8.1,8.5,8.1,6.4,5.9],[8.2,8.7,8.3,7.9,6.3],[8.3,8.2,7.8,6.9,6.2,9.6],[8.5,8.4,7.3,6.8,6.2],[8.6,7.9,6.3,6.1],[8.7,7.6,7.3,6.5],[8.8,7.1,7.6,8.1],[9,8.4,8.1,7.6],[9.2,8.3,7.7]];

const pointRows=[k1,l1,k2,lp2,l2,k3,lp3,l3];
const yDomains=[[0,12],[0,14],[0,14],[-2,16],[-5,20],[0,12],[0,16],[0,16]];
const yMajor=[2,2,2,2,5,2,2,2];
const yMinor=[0.4,0.4,0.4,0.5,1,0.4,0.5,0.5];
const trendX=[[1.8,13],[1.75,13],[2,11.85],[2,11.85],[2,11.85],[2.05,11.95],[2.05,11.95],[2.05,11.95]];

// layout: frame [l,t,r,b], plot [x0,x14,yTop,yBottom], text anchors
const frames=[[1,2,349,319],[700,2,1049,319],[1,321,349,639],[350,321,699,639],[700,321,1049,639],[1,641,349,960],[350,641,699,961],[700,641,1049,961]];
const plots=[[52,333.5,40,268.5],[752,1033,39,268.5],[53,333.5,359,588.5],[402,682,359,606.5],[752,1033,359,607],[53.5,333.5,679,909],[401,682,680,910.5],[751,1033,680.5,910.5]];
const titleAt=[[174,24],[873,24],[174,343],[523,343],[873,343],[182,667],[523,664],[868,663]];
const eqAt=[[210,55],[916,50],[215,368],[559,365],[910,370],[208,692],[559,683],[910,683]];
const xLabelAt=[[192,303],[892,303],[193,624],[542,623],[892,624],[193,944],[542,945],[892,945]];
const yLabelAt=[[23,147],[723,147],[23,467],[373,467],[723,467],[24,787],[373,787],[723,787]];

const svg=d3.select("#c");
const defs=svg.append("defs");
defs.append("filter").attr("id","soft").append("feGaussianBlur").attr("stdDeviation",0.4);
const root=svg.append("g").attr("filter","url(#soft)");
const diamond=d3.symbol().type(d3.symbolSquare).size(33)();

function richLabel(sel,pre){
  sel.append("tspan").text(pre+"p");
  sel.append("tspan").attr("font-style","italic").text("K");
  sel.append("tspan").attr("font-style","italic").attr("font-size","0.72em").attr("dy",3).text("d");
  sel.append("tspan").attr("dy",-3).text("/p");
  sel.append("tspan").attr("font-style","italic").text("K");
  sel.append("tspan").attr("font-style","italic").attr("font-size","0.72em").attr("dy",3).text("i");
}

titles.forEach((title,i)=>{
  const g=root.append("g");
  const [fl,ft,fr,fb]=frames[i];
  g.append("rect").attr("x",fl).attr("y",ft).attr("width",fr-fl).attr("height",fb-ft).attr("fill","#fff").attr("stroke","#bdbdbd").attr("stroke-width",1.4);
  const [px0,px1,pyT,pyB]=plots[i];
  const x=d3.scaleLinear().domain([0,14]).range([px0,px1]);
  const y=d3.scaleLinear().domain(yDomains[i]).range([pyB,pyT]);
  const [lo,hi]=yDomains[i];
  const n=Math.round((hi-lo)/yMinor[i]);
  const ticks=d3.range(n+1).map(k=>lo+k*yMinor[i]);
  const isMajor=v=>Math.abs(v/yMajor[i]-Math.round(v/yMajor[i]))<1e-6;
  g.append("g").selectAll("line").data(ticks.filter(v=>!isMajor(v))).join("line")
    .attr("x1",px0).attr("x2",px1).attr("y1",d=>y(d)).attr("y2",d=>y(d)).attr("stroke","#d4d4d4").attr("stroke-width",1.1);
  g.append("g").selectAll("line").data(ticks.filter(isMajor)).join("line")
    .attr("x1",px0).attr("x2",px1).attr("y1",d=>y(d)).attr("y2",d=>y(d)).attr("stroke","#a2a2a2").attr("stroke-width",1.2);
  const pts=pointRows[i].flatMap(r=>r.slice(1).map(v=>[r[0],v]));
  g.append("g").selectAll("path").data(pts).join("path").attr("d",diamond)
    .attr("transform",d=>`translate(${x(d[0])},${y(d[1])}) rotate(45)`).attr("fill","#4a7ebb");
  const f=v=>slopes[i]*v+intercepts[i];
  g.append("line").attr("x1",x(trendX[i][0])).attr("x2",x(trendX[i][1])).attr("y1",y(f(trendX[i][0]))).attr("y2",y(f(trendX[i][1]))).attr("stroke","#222").attr("stroke-width",1);
  const ax=g.append("g").attr("transform",`translate(0,${y(Math.max(lo,0))})`).call(d3.axisBottom(x).tickValues(xTicks).tickSize(3).tickPadding(5));
  const ay=g.append("g").attr("transform",`translate(${px0},0)`).call(d3.axisLeft(y).tickValues(d3.range(lo,hi+1e-6,yMajor[i])).tickSize(3).tickPadding(5));
  [ax,ay].forEach(a=>{a.select(".domain").attr("stroke","#8c8c8c");a.selectAll("line").attr("stroke","#8c8c8c");a.selectAll("text").attr("fill","#555").attr("font-size",9).style("font-family","Lato");});
  g.append("text").attr("x",titleAt[i][0]).attr("y",titleAt[i][1]).attr("text-anchor","middle").attr("font-weight",700).attr("font-size",14.5).attr("fill","#111").text(title);
  g.append("text").attr("x",eqAt[i][0]).attr("y",eqAt[i][1]).attr("font-size",14.2).attr("fill","#111").text(equations[i]);
  g.append("text").attr("x",xLabelAt[i][0]).attr("y",xLabelAt[i][1]).attr("text-anchor","middle").attr("font-weight",700).attr("font-size",15).attr("fill","#111").call(richLabel,"Experimental ");
  g.append("text").attr("transform",`translate(${yLabelAt[i][0]+5},${yLabelAt[i][1]}) rotate(-90)`).attr("text-anchor","middle").attr("font-weight",700).attr("font-size",15).attr("fill","#111").call(richLabel,"Calculated ");
});
</script></body></html>
